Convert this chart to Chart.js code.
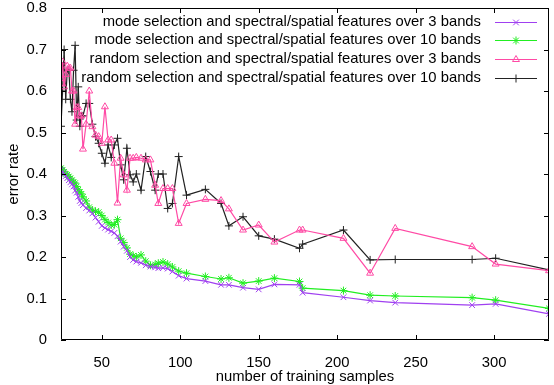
<!DOCTYPE html>
<html>
<head>
<meta charset="utf-8">
<script src="https://cdn.jsdelivr.net/npm/chart.js@4.4.1/dist/chart.umd.min.js"></script>
<style>
  html, body { margin: 0; padding: 0; background: #fff; }
  #wrap { width: 554px; height: 385px; }
</style>
</head>
<body>
<div id="wrap"><canvas id="errorChart" width="554" height="385"></canvas></div>
<script>
// training sample counts (shared by all four runs)
const samples = [24, 25, 26, 27, 28, 29, 30, 31, 32, 33, 34, 35, 36, 37, 38, 40, 42, 44, 46, 48,
  50, 52, 54, 56, 58, 60, 62, 64, 66, 68, 70, 72, 75, 78, 81, 84, 86, 89, 92, 95,
  99, 104, 116, 126, 131, 140, 150, 160, 176, 178, 204, 221, 237, 286, 301, 335];

const modeBands3 = [0.41, 0.405, 0.40, 0.395, 0.39, 0.385, 0.38, 0.375, 0.37, 0.36, 0.355, 0.345, 0.335, 0.33, 0.325, 0.318, 0.312, 0.305, 0.295, 0.285,
  0.275, 0.27, 0.266, 0.262, 0.258, 0.25, 0.237, 0.225, 0.215, 0.20, 0.193, 0.189, 0.186, 0.18, 0.177, 0.175, 0.173, 0.174, 0.172, 0.165,
  0.155, 0.148, 0.142, 0.133, 0.133, 0.126, 0.122, 0.134, 0.133, 0.114, 0.103, 0.095, 0.090, 0.084, 0.087, 0.063];

const modeBands10 = [0.414, 0.41, 0.405, 0.40, 0.398, 0.394, 0.39, 0.385, 0.38, 0.378, 0.37, 0.362, 0.357, 0.352, 0.345, 0.335, 0.32, 0.313, 0.31, 0.308,
  0.30, 0.29, 0.283, 0.277, 0.278, 0.29, 0.245, 0.235, 0.222, 0.207, 0.203, 0.20, 0.205, 0.19, 0.18, 0.182, 0.185, 0.188, 0.183, 0.176,
  0.166, 0.161, 0.153, 0.147, 0.150, 0.137, 0.142, 0.149, 0.141, 0.125, 0.119, 0.108, 0.106, 0.102, 0.096, 0.076];

const randomBands3 = [0.63, 0.67, 0.61, 0.64, 0.66, 0.655, 0.655, 0.60, 0.60, 0.52, 0.56, 0.56, 0.54, 0.54, 0.46, 0.52, 0.60, 0.514, 0.494, 0.49,
  0.474, 0.562, 0.482, 0.482, 0.426, 0.33, 0.438, 0.398, 0.361, 0.438, 0.438, 0.44, 0.438, 0.434, 0.434, 0.373, 0.329, 0.365, 0.365, 0.365,
  0.281, 0.329, 0.339, 0.336, 0.316, 0.265, 0.277, 0.236, 0.265, 0.265, 0.245, 0.161, 0.269, 0.225, 0.183, 0.167];

const randomBands10 = [0.515, 0.60, 0.70, 0.58, 0.65, 0.65, 0.58, 0.55, 0.65, 0.71, 0.53, 0.61, 0.515, 0.54, 0.54, 0.57, 0.57, 0.52, 0.49, 0.474,
  0.45, 0.426, 0.47, 0.44, 0.47, 0.486, 0.422, 0.386, 0.462, 0.398, 0.381, 0.40, 0.361, 0.442, 0.406, 0.361, 0.40, 0.40, 0.317, 0.329,
  0.442, 0.349, 0.363, 0.329, 0.275, 0.297, 0.251, 0.243, 0.221, 0.231, 0.265, 0.193, 0.194, 0.194, 0.197, 0.169];

const xTicks = [50, 100, 150, 200, 250, 300];
const yTicks = [0, 0.1, 0.2, 0.3, 0.4, 0.5, 0.6, 0.7, 0.8];
const yTickLabels = ['0', '0.1', '0.2', '0.3', '0.4', '0.5', '0.6', '0.7', '0.8'];

const seriesNames = [
    'mode selection and spectral/spatial features over 3 bands',
    'mode selection and spectral/spatial features over 10 bands',
    'random selection and spectral/spatial features over 3 bands',
    'random selection and spectral/spatial features over 10 bands'
];

const FAMILY = '"Liberation Sans", Arial, sans-serif';
const FSIZE = 14.8;
const toPoints = (vals) => vals.map((v, i) => ({ x: samples[i], y: v }));

function makeSet(label, vals, color, style) {
    return {
        label: label,
        data: toPoints(vals),
        borderColor: color,
        backgroundColor: color,
        borderWidth: 1.2,
        pointStyle: style,
        pointRadius: 4,
        pointBorderWidth: 1,
        pointBackgroundColor: 'rgba(0,0,0,0)',
        pointBorderColor: color,
        tension: 0,
        fill: false
    };
}

const datasets = [
    makeSet(seriesNames[0], modeBands3, '#a040f0', 'crossRot'),
    makeSet(seriesNames[1], modeBands10, '#22ee22', 'star'),
    makeSet(seriesNames[2], randomBands3, '#ff4aa5', 'triangle'),
    makeSet(seriesNames[3], randomBands10, '#222222', 'cross')
];

// small marker for the legend keys
function keyMarker(ctx, style, x, y) {
    const r = 4;
    const d = r * Math.SQRT1_2;
    ctx.beginPath();
    if (style === 'triangle') {
        ctx.moveTo(x, y - r);
        ctx.lineTo(x + r * 0.87, y + r * 0.5);
        ctx.lineTo(x - r * 0.87, y + r * 0.5);
        ctx.closePath();
    } else {
        if (style === 'cross' || style === 'star') {
            ctx.moveTo(x - r, y); ctx.lineTo(x + r, y);
            ctx.moveTo(x, y - r); ctx.lineTo(x, y + r);
        }
        if (style === 'crossRot' || style === 'star') {
            ctx.moveTo(x - d, y - d); ctx.lineTo(x + d, y + d);
            ctx.moveTo(x - d, y + d); ctx.lineTo(x + d, y - d);
        }
    }
    ctx.stroke();
}

// gnuplot-ish frame: box, inward ticks on all sides, axis titles, legend
const framePlugin = {
    id: 'frame',
    afterDraw(chart) {
        const { ctx, chartArea: a, scales } = chart;

        // legend
        ctx.save();
        ctx.font = FSIZE + 'px ' + FAMILY;
        ctx.textBaseline = 'middle';
        ctx.textAlign = 'right';
        ctx.fillStyle = '#000';
        chart.data.datasets.forEach((ds, i) => {
            ctx.fillText(ds.label, 481, 21.5 + i * 18.9);
        });
        chart.data.datasets.forEach((ds, i) => {
            const y = Math.round(21.5 + i * 18.9) + 0.5;
            ctx.strokeStyle = ds.borderColor;
            ctx.lineWidth = 1.2;
            ctx.beginPath();
            ctx.moveTo(495, y);
            ctx.lineTo(537, y);
            ctx.stroke();
            ctx.lineWidth = 1;
            keyMarker(ctx, ds.pointStyle, 516, y);
        });
        ctx.restore();

        // axis titles
        ctx.save();
        ctx.font = FSIZE + 'px ' + FAMILY;
        ctx.fillStyle = '#000';
        ctx.textAlign = 'center';
        ctx.textBaseline = 'middle';
        ctx.fillText('number of training samples', (a.left + a.right) / 2, 377);
        ctx.translate(14, (a.top + a.bottom) / 2);
        ctx.rotate(-Math.PI / 2);
        ctx.fillText('error rate', 0, 0);
        ctx.restore();

        // border and inward ticks
        ctx.save();
        ctx.strokeStyle = '#000';
        ctx.lineWidth = 1;
        ctx.beginPath();
        ctx.rect(a.left + 0.5, a.top + 0.5, a.right - a.left - 1, a.bottom - a.top - 1);
        ctx.stroke();
        ctx.beginPath();
        xTicks.forEach(v => {
            const px = Math.round(scales.x.getPixelForValue(v)) + 0.5;
            ctx.moveTo(px, a.bottom);
            ctx.lineTo(px, a.bottom - 5);
            ctx.moveTo(px, a.top);
            ctx.lineTo(px, a.top + 5);
        });
        yTicks.forEach(v => {
            const py = Math.round(scales.y.getPixelForValue(v)) + 0.5;
            ctx.moveTo(a.left, py);
            ctx.lineTo(a.left + 5, py);
            ctx.moveTo(a.right, py);
            ctx.lineTo(a.right - 5, py);
        });
        ctx.stroke();
        ctx.restore();
    }
};

const chartEl = document.getElementById('errorChart');
new Chart(chartEl.getContext('2d'), {
    type: 'line',
    data: { datasets: datasets },
    options: {
        responsive: false,
        animation: false,
        layout: { padding: { top: 8, right: 1, left: 0, bottom: 0 } },
        plugins: {
            legend: { display: false },
            tooltip: { enabled: false }
        },
        scales: {
            x: {
                type: 'linear',
                min: 24,
                max: 335,
                afterFit: (s) => {
                    s.height = 45;
                    s.paddingLeft = 0;
                    s.paddingRight = 0;
                },
                afterBuildTicks: (s) => { s.ticks = xTicks.map(v => ({ value: v })); },
                grid: { display: false, drawTicks: false },
                border: { display: false },
                ticks: {
                    color: '#000',
                    font: { family: FAMILY, size: FSIZE },
                    padding: 14,
                    maxRotation: 0,
                    autoSkip: false
                }
            },
            y: {
                min: 0,
                max: 0.8,
                afterFit: (s) => {
                    s.width = 61;
                    s.paddingTop = 0;
                    s.paddingBottom = 0;
                },
                afterBuildTicks: (s) => { s.ticks = yTicks.map(v => ({ value: v })); },
                grid: { display: false, drawTicks: false },
                border: { display: false },
                ticks: {
                    color: '#000',
                    font: { family: FAMILY, size: FSIZE },
                    padding: 14,
                    autoSkip: false,
                    callback: (v) => yTickLabels[yTicks.indexOf(v)] ?? ''
                }
            }
        }
    },
    plugins: [framePlugin]
});
</script>
</body>
</html>
